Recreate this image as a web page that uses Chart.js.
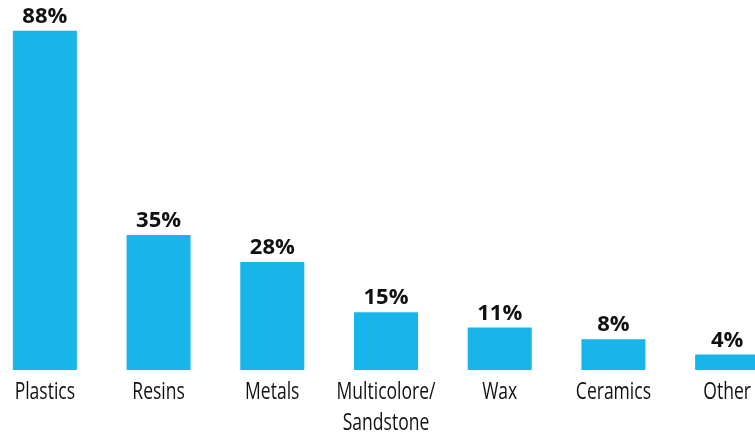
<!DOCTYPE html>
<html lang="en">
<head>
    <meta charset="UTF-8">
    <title>Materials</title>
    <style>
        html, body {
            margin: 0;
            padding: 0;
            background: #fff;
            overflow: hidden;
        }
        .chart-container {
            position: relative;
            width: 796px;
            height: 439px;
            margin-left: -12px;
        }
    </style>
    <script src="https://cdn.jsdelivr.net/npm/chart.js"></script>
</head>
<body>
    <div class="chart-container">
        <canvas id="materialsChart"></canvas>
    </div>
    <script>
        var categories = ['Plastics', 'Resins', 'Metals', ['Multicolore/', 'Sandstone'], 'Wax', 'Ceramics', 'Other'];
        var shares = [88, 35, 28, 15, 11, 8, 4];
        var yMax = 96;

        // value labels above bars + condensed category labels (no narrow font installed, so squeeze)
        var barText = {
            id: 'barText',
            afterDatasetsDraw: function (chart) {
                var ctx = chart.ctx;
                var meta = chart.getDatasetMeta(0);
                var xScale = chart.scales.x;
                var bottom = chart.chartArea.bottom;
                ctx.save();
                ctx.fillStyle = '#111';
                ctx.textAlign = 'center';
                ctx.textBaseline = 'alphabetic';
                ctx.font = 'bold 22px "Open Sans", sans-serif';
                meta.data.forEach(function (bar, i) {
                    ctx.fillText(shares[i] + '%', bar.x, bar.y - 8);
                });
                ctx.font = '24px "Open Sans", sans-serif';
                categories.forEach(function (label, i) {
                    var lines = Array.isArray(label) ? label : [label];
                    var x = xScale.getPixelForTick(i);
                    lines.forEach(function (line, j) {
                        ctx.save();
                        ctx.translate(x, bottom + 29 + j * 31);
                        ctx.scale(0.73, 1);
                        ctx.fillText(line, 0, 0);
                        ctx.restore();
                    });
                });
                ctx.restore();
            }
        };

        var ctx = document.getElementById('materialsChart').getContext('2d');
        var materialsChart = new Chart(ctx, {
            type: 'bar',
            data: {
                labels: categories,
                datasets: [{
                    data: shares,
                    backgroundColor: '#17b5ea',
                    barPercentage: 0.563,
                    categoryPercentage: 1
                }]
            },
            options: {
                responsive: true,
                maintainAspectRatio: false,
                animation: false,
                layout: { padding: { top: 0, bottom: 9, left: 0, right: 0 } },
                plugins: {
                    legend: { display: false },
                    tooltip: { enabled: false }
                },
                scales: {
                    x: {
                        grid: { display: false, drawTicks: false },
                        border: { display: false },
                        ticks: {
                            color: 'rgba(0,0,0,0)',
                            padding: 0,
                            maxRotation: 0,
                            autoSkip: false,
                            font: { size: 20, lineHeight: 1.5 }
                        }
                    },
                    y: {
                        display: false,
                        min: 0,
                        max: yMax
                    }
                }
            },
            plugins: [barText]
        });
    </script>
</body>
</html>
